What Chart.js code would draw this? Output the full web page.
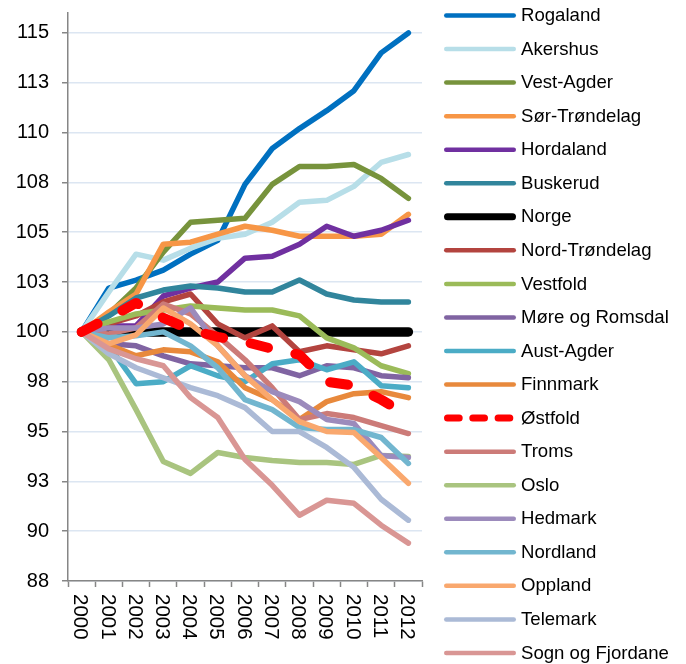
<!DOCTYPE html>
<html>
<head>
<meta charset="utf-8">
<title>Fylkesindeks 2000-2012</title>
<script src="https://cdn.jsdelivr.net/npm/chart.js@4/dist/chart.umd.min.js"></script>
<style>
  html, body { margin: 0; padding: 0; background: #fff; }
  #wrap { width: 686px; height: 664px; position: relative; }
</style>
</head>
<body>
<div id="wrap"><canvas id="indexChart"></canvas></div>
<script>
// ===== Data =====
const years = ['2000', '2001', '2002', '2003', '2004', '2005', '2006', '2007', '2008', '2009', '2010', '2011', '2012'];

const yTicks = [87.5, 90, 92.5, 95, 97.5, 100, 102.5, 105, 107.5, 110, 112.5, 115];
const yTickLabels = ['88', '90', '93', '95', '98', '100', '103', '105', '108', '110', '113', '115'];

const rogaland      = [100, 102.2, 102.6, 103.1, 103.9, 104.6, 107.4, 109.2, 110.2, 111.1, 112.1, 114.0, 115.0];
const akershus      = [100, 102.0, 103.9, 103.6, 104.2, 104.7, 104.9, 105.5, 106.5, 106.6, 107.3, 108.5, 108.9];
const vestAgder     = [100, 100.9, 102.2, 104.0, 105.5, 105.6, 105.7, 107.4, 108.3, 108.3, 108.4, 107.7, 106.7];
const sorTrondelag  = [100, 101.0, 101.9, 104.4, 104.5, 104.9, 105.3, 105.1, 104.8, 104.8, 104.8, 104.9, 105.9];
const hordaland     = [100, 100.3, 100.3, 101.8, 102.2, 102.5, 103.7, 103.8, 104.4, 105.3, 104.8, 105.1, 105.6];
const buskerud      = [100, 100.8, 101.7, 102.1, 102.3, 102.2, 102.0, 102.0, 102.6, 101.9, 101.6, 101.5, 101.5];
const norge         = [100, 100, 100, 100, 100, 100, 100, 100, 100, 100, 100, 100, 100];
const nordTrondelag = [100, 100.4, 100.8, 101.5, 101.9, 100.4, 99.7, 100.3, 99.0, 99.3, 99.1, 98.9, 99.3];
const vestfold      = [100, 100.5, 100.9, 101.1, 101.3, 101.2, 101.1, 101.1, 100.8, 99.7, 99.2, 98.3, 97.9];
const moreRomsdal   = [100, 99.4, 99.3, 98.8, 98.4, 98.3, 98.2, 98.2, 97.8, 98.3, 98.2, 97.8, 97.7];
const austAgder     = [100, 99.3, 97.4, 97.5, 98.3, 97.8, 97.5, 98.4, 98.6, 98.1, 98.5, 97.3, 97.2];
const finnmark      = [100, 99.35, 98.8, 99.1, 99.0, 98.5, 97.2, 96.6, 95.6, 96.5, 96.9, 97.0, 96.7];
const ostfold       = [100, 100.7, 101.45, 100.7, 100.1, 99.75, 99.5, 99.15, 98.85, 97.5, 97.3, 96.6, 95.8];
const troms         = [100, 99.9, 100.2, 101.4, 100.9, 99.8, 98.6, 97.2, 95.6, 95.9, 95.7, 95.3, 94.9];
const oslo          = [100, 98.6, 96.1, 93.5, 92.9, 93.95, 93.7, 93.55, 93.45, 93.45, 93.35, 93.8, 93.75];
const hedmark       = [100, 100.2, 100.2, 100.4, 101.2, 99.3, 97.8, 97.0, 96.5, 95.6, 95.4, 93.8, 93.7];
const nordland      = [100, 99.7, 99.8, 100.0, 99.3, 98.2, 96.6, 96.1, 95.2, 95.1, 95.1, 94.7, 93.4];
const oppland       = [100, 99.4, 99.85, 101.2, 100.4, 99.3, 97.8, 96.6, 95.5, 95.0, 94.95, 93.7, 92.4];
const telemark      = [100, 98.9, 98.2, 97.7, 97.2, 96.8, 96.2, 95.0, 95.0, 94.2, 93.2, 91.6, 90.55];
const sognFjordane  = [100, 99.15, 98.65, 98.3, 96.7, 95.7, 93.6, 92.3, 90.8, 91.55, 91.4, 90.3, 89.4];

// ===== Series table (legend order) =====
const FONT = '"Liberation Sans", Arial, sans-serif';

const series = [
  { label: 'Rogaland',         data: rogaland,      color: '#0070C0' },
  { label: 'Akershus',         data: akershus,      color: '#B7DEE8' },
  { label: 'Vest-Agder',       data: vestAgder,     color: '#77933C' },
  { label: 'Sør-Trøndelag',    data: sorTrondelag,  color: '#F79646' },
  { label: 'Hordaland',        data: hordaland,     color: '#7030A0' },
  { label: 'Buskerud',         data: buskerud,      color: '#31859C' },
  { label: 'Norge',            data: norge,         color: '#000000', width: 9.5, legendWidth: 7 },
  { label: 'Nord-Trøndelag',   data: nordTrondelag, color: '#B3443F' },
  { label: 'Vestfold',         data: vestfold,      color: '#9BBB59' },
  { label: 'Møre og Romsdal',  data: moreRomsdal,   color: '#8064A2' },
  { label: 'Aust-Agder',       data: austAgder,     color: '#4BACC6' },
  { label: 'Finnmark',         data: finnmark,      color: '#E8893C' },
  { label: 'Østfold',          data: ostfold,       color: '#FF0000', width: 10, dash: [18, 28],
    legendWidth: 7, legendDash: [11.7, 13.6], top: true },
  { label: 'Troms',            data: troms,         color: '#CC7B78' },
  { label: 'Oslo',             data: oslo,          color: '#A9C47F' },
  { label: 'Hedmark',          data: hedmark,       color: '#9C8BBC' },
  { label: 'Nordland',         data: nordland,      color: '#72B6CF' },
  { label: 'Oppland',          data: oppland,       color: '#F9A86E' },
  { label: 'Telemark',         data: telemark,      color: '#ABBAD6' },
  { label: 'Sogn og Fjordane', data: sognFjordane,  color: '#D99694' },
];

// ---- Side legend (one column, drawn next to the plot) ----
const sideLegend = {
  id: 'sideLegend',
  afterDraw(chart) {
    const ctx = chart.ctx;
    ctx.save();
    ctx.font = '18.6px ' + FONT;
    ctx.textBaseline = 'middle';
    ctx.textAlign = 'left';
    chart.data.datasets.forEach((ds, i) => {
      const y = 15.5 + i * 33.55;
      const w = ds.legendWidth || 4.5;
      ctx.beginPath();
      ctx.strokeStyle = ds.borderColor;
      ctx.lineWidth = w;
      ctx.lineCap = 'round';
      ctx.setLineDash(ds.legendDash || []);
      ctx.moveTo(444 + w / 2, y);
      ctx.lineTo(ds.legendDash ? 509.8 : 516 - w / 2, y);
      ctx.stroke();
      ctx.setLineDash([]);
      ctx.fillStyle = '#000';
      ctx.fillText(ds.label, 521, y + 0.5);
    });
    ctx.restore();
  }
};

// ---- Year labels, turned 90 degrees clockwise ----
const yearLabels = {
  id: 'yearLabels',
  afterDraw(chart) {
    const xs = chart.scales.x;
    const ctx = chart.ctx;
    const size = 20.5;
    ctx.save();
    ctx.font = size + 'px ' + FONT;
    ctx.fillStyle = '#000';
    ctx.textAlign = 'left';
    ctx.textBaseline = 'alphabetic';
    years.forEach((yr, i) => {
      ctx.save();
      ctx.translate(xs.getPixelForValue(i), xs.top + 13);
      ctx.rotate(Math.PI / 2);
      ctx.fillText(yr, 0, 0.358 * size);
      ctx.restore();
    });
    ctx.restore();
  }
};

// ===== Chart =====
function initIndexChart() {
  const ctx = document.getElementById('indexChart');

  const datasets = series.map((s, i) => ({
    label: s.label,
    data: s.data,
    borderColor: s.color,
    backgroundColor: s.color,
    borderWidth: s.width || 5.5,
    borderDash: s.dash || [],
    borderCapStyle: 'round',
    borderJoinStyle: 'round',
    pointRadius: 0,
    pointHoverRadius: 0,
    tension: 0,
    fill: false,
    order: s.top ? 0 : series.length - i,
    legendWidth: s.legendWidth,
    legendDash: s.legendDash,
  }));

  new Chart(ctx, {
    type: 'line',
    data: { labels: years, datasets },
    options: {
      responsive: true,
      maintainAspectRatio: false,
      animation: false,
      layout: { padding: { top: 13, right: 264, left: 0, bottom: 0 } },
      plugins: {
        legend: { display: false },
        tooltip: { enabled: false },
      },
      scales: {
        x: {
          type: 'category',
          offset: true,
          grid: {
            offset: true,
            drawOnChartArea: false,
            drawTicks: true,
            tickLength: 6,
            tickColor: '#868686',
            tickWidth: 1.5,
          },
          border: { color: '#868686', width: 1.5 },
          ticks: { display: false },
          afterFit(scale) { scale.height = 83; },
        },
        y: {
          min: 87.5,
          max: 116,
          afterBuildTicks(scale) {
            scale.ticks = yTicks.map(v => ({ value: v }));
          },
          afterFit(scale) {
            scale.width = 68;
            scale.paddingTop = 0;
            scale.paddingBottom = 0;
          },
          grid: {
            color: '#DCE6F2',
            lineWidth: 1.5,
            drawTicks: true,
            tickLength: 6,
            tickColor: '#868686',
            tickWidth: 1.5,
          },
          border: { color: '#868686', width: 1.5 },
          ticks: {
            padding: 13,
            color: '#000',
            font: { family: FONT, size: 20 },
            callback: (value) => yTickLabels[yTicks.indexOf(value)],
          },
        },
      },
    },
    plugins: [sideLegend, yearLabels],
  });
}

document.addEventListener('DOMContentLoaded', initIndexChart);
</script>
</body>
</html>
